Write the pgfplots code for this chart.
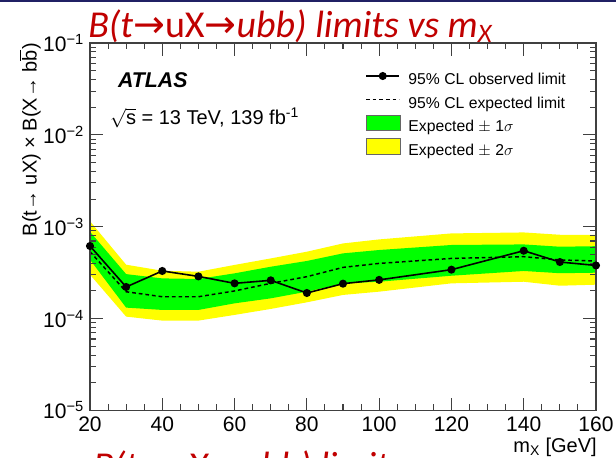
\documentclass[border=0pt]{standalone}
\usepackage{fontspec}
\setmainfont{Liberation Sans}
\newfontfamily\titlefont{Carlito}
\newfontfamily\symfont{DejaVu Sans}
\usepackage{pgfplots}
\usepackage{pgfplotstable}
\pgfplotsset{compat=1.18}

\definecolor{bandgreen}{RGB}{0,255,0}
\definecolor{bandyellow}{RGB}{255,255,0}
\definecolor{slidered}{RGB}{192,0,0}
\definecolor{slidenavy}{RGB}{32,32,100}

% Upper limits on B(t->uX) x B(X->bb) versus m_X
\pgfplotstableread{
mx  obs      exp
20  6.17e-4  5.35e-4
30  2.21e-4  1.96e-4
40  3.30e-4  1.73e-4
50  2.88e-4  1.73e-4
60  2.42e-4  2.00e-4
70  2.61e-4  2.42e-4
80  1.90e-4  2.86e-4
90  2.40e-4  3.61e-4
100 2.64e-4  3.99e-4
120 3.41e-4  4.52e-4
140 5.48e-4  4.72e-4
150 4.13e-4  4.35e-4
160 3.79e-4  4.24e-4
}\limitdata

% +-2 sigma band outline: upper edge left to right, then lower edge right to left
\pgfplotstableread{
mx  lim
20  1.148e-3
30  3.86e-4
40  3.32e-4
50  3.24e-4
60  3.84e-4
70  4.52e-4
80  5.35e-4
90  6.58e-4
100 7.28e-4
120 8.46e-4
140 8.67e-4
150 8.18e-4
160 8.18e-4
160 2.34e-4
150 2.28e-4
140 2.52e-4
120 2.42e-4
100 1.965e-4
90  1.810e-4
80  1.504e-4
70  1.274e-4
60  1.097e-4
50  9.51e-5
40  9.51e-5
30  1.051e-4
20  3.01e-4
}\twosigma

% +-1 sigma band outline
\pgfplotstableread{
mx  lim
20  8.82e-4
30  3.05e-4
40  2.74e-4
50  2.70e-4
60  3.11e-4
70  3.67e-4
80  4.24e-4
90  5.13e-4
100 5.58e-4
120 6.33e-4
140 6.42e-4
150 6.06e-4
160 6.14e-4
160 3.16e-4
150 3.12e-4
140 3.30e-4
120 2.93e-4
100 2.52e-4
90  2.42e-4
80  1.965e-4
70  1.662e-4
60  1.466e-4
50  1.243e-4
40  1.243e-4
30  1.317e-4
20  4.38e-4
}\onesigma

\newcommand{\arr}{{\symfont →}}

\pgfplotsset{
  obsleg/.style={legend image code/.code={%
    \path (0pt,3.5pt) -- (25pt,3.5pt);
    \draw[overlay, mark repeat=2, mark phase=2, ##1] plot coordinates {(0pt,3.5pt) (12.5pt,3.5pt) (25pt,3.5pt)};}},
  expleg/.style={legend image code/.code={%
    \path (0pt,3.5pt) -- (25pt,3.5pt);
    \draw[overlay, ##1] (0pt,3.5pt) -- (25pt,3.5pt);}},
  bandleg/.style={legend image code/.code={%
    \path (0pt,3.5pt) -- (25.5pt,3.5pt);
    \draw[overlay, ##1] (0pt,-2.3pt) rectangle (25.5pt,9.3pt);}},
}

\begin{document}
\begin{tikzpicture}
\fill[slidenavy] (0,0) rectangle (462pt,-1.3pt);

% slide title
\node[anchor=base west, inner sep=0pt, text=slidered,
      font=\fontsize{28.5}{30}\titlefont\itshape] at (66pt,-27.75pt)
  {B(t\arr{\upshape uX}\arr ubb) limits vs m\textsubscript{X}};
% next title on the slide, mostly cut off by the page edge
\node[anchor=base west, inner sep=0pt, text=slidered,
      font=\fontsize{28.5}{30}\titlefont\itshape] at (69.75pt,-359pt)
  {B(t\arr{\upshape uX}\arr ubb) limits};

\begin{axis}[
  at={(67.5pt,-32.25pt)}, anchor=north west,
  scale only axis, width=379.5pt, height=275.6pt,
  xmin=20, xmax=160, ymode=log, ymin=1e-5, ymax=1e-1,
  axis on top,
  axis line style={black!75, line width=0.8pt},
  tick align=inside,
  major tick length=9.5pt, minor tick length=4.8pt,
  every tick/.style={black!75, line width=0.8pt},
  xtick={20,40,...,160}, minor x tick num=3,
  ytick={1e-5,1e-4,1e-3,1e-2,1e-1},
  yticklabels={10\textsuperscript{−5},10\textsuperscript{−4},10\textsuperscript{−3},10\textsuperscript{−2},10\textsuperscript{−1}},
  minor ytick={2e-5,3e-5,4e-5,5e-5,6e-5,7e-5,8e-5,9e-5,
               2e-4,3e-4,4e-4,5e-4,6e-4,7e-4,8e-4,9e-4,
               2e-3,3e-3,4e-3,5e-3,6e-3,7e-3,8e-3,9e-3,
               2e-2,3e-2,4e-2,5e-2,6e-2,7e-2,8e-2,9e-2},
  tick label style={font=\fontsize{15.75}{18}\selectfont},
  /pgf/number format/assume math mode=true,
  xticklabel style={yshift=-1pt},
  yticklabel style={xshift=-1pt},
  legend cell align=left,
  legend style={at={(axis description cs:0.5435,0.920)}, anchor=north west,
    draw=none, fill=none, inner sep=0pt,
    font=\fontsize{11.8}{14}\selectfont,
    nodes={inner sep=0pt, text height=9pt, text depth=3pt},
    row sep=5.6pt,
    /tikz/every odd column/.append style={column sep=6pt}},
]
% legend entries, in the order they are listed
\addlegendimage{black, line width=1.2pt, mark=*, mark size=2.4pt, obsleg}
\addlegendentry{95\% CL observed limit}
\addlegendimage{black, line width=1.1pt, dash pattern=on 2.8pt off 2.2pt, expleg}
\addlegendentry{95\% CL expected limit}
\addlegendimage{fill=bandgreen, draw=black!60, line width=0.6pt, bandleg}
\addlegendentry{Expected $\pm$ 1$\sigma$}
\addlegendimage{fill=bandyellow, draw=black!60, line width=0.6pt, bandleg}
\addlegendentry{Expected $\pm$ 2$\sigma$}

% bands
\addplot[fill=bandyellow, draw=none, forget plot] table[x=mx, y=lim] {\twosigma};
\addplot[fill=bandgreen, draw=none, forget plot] table[x=mx, y=lim] {\onesigma};

% expected and observed limits
\addplot[black, line width=1.1pt, dash pattern=on 2.8pt off 2.2pt, forget plot]
  table[x=mx, y=exp] {\limitdata};
\addplot[black, line width=1.2pt, mark=*, mark size=2.4pt, forget plot]
  table[x=mx, y=obs] {\limitdata};

% labels inside the frame
\node[anchor=base west, inner sep=0pt, font=\fontsize{16}{18}\selectfont\bfseries\itshape]
  at (axis description cs:0.055,0.878) {ATLAS};
\node[anchor=base west, inner sep=0pt, font=\fontsize{15}{18}\selectfont]
  at (axis description cs:0.039,0.779) {$\sqrt{\mbox{s}}$ = 13 TeV, 139 fb\textsuperscript{-1}};
\end{axis}

% axis titles
\node[rotate=90, anchor=east, inner sep=0pt, font=\fontsize{15}{18}\selectfont]
  at (22.5pt,-32.25pt) {B(t→ uX) × B(X→ b$\overline{\mbox{b}}$)};
\node[anchor=base east, inner sep=0pt, font=\fontsize{15}{18}\selectfont]
  at (447.75pt,-339.5pt) {m\textsubscript{X} [GeV]};

% the page shows the slide region only
\pgfresetboundingbox
\useasboundingbox (0,0) rectangle (462pt,-342.75pt);
\end{tikzpicture}
\end{document}
